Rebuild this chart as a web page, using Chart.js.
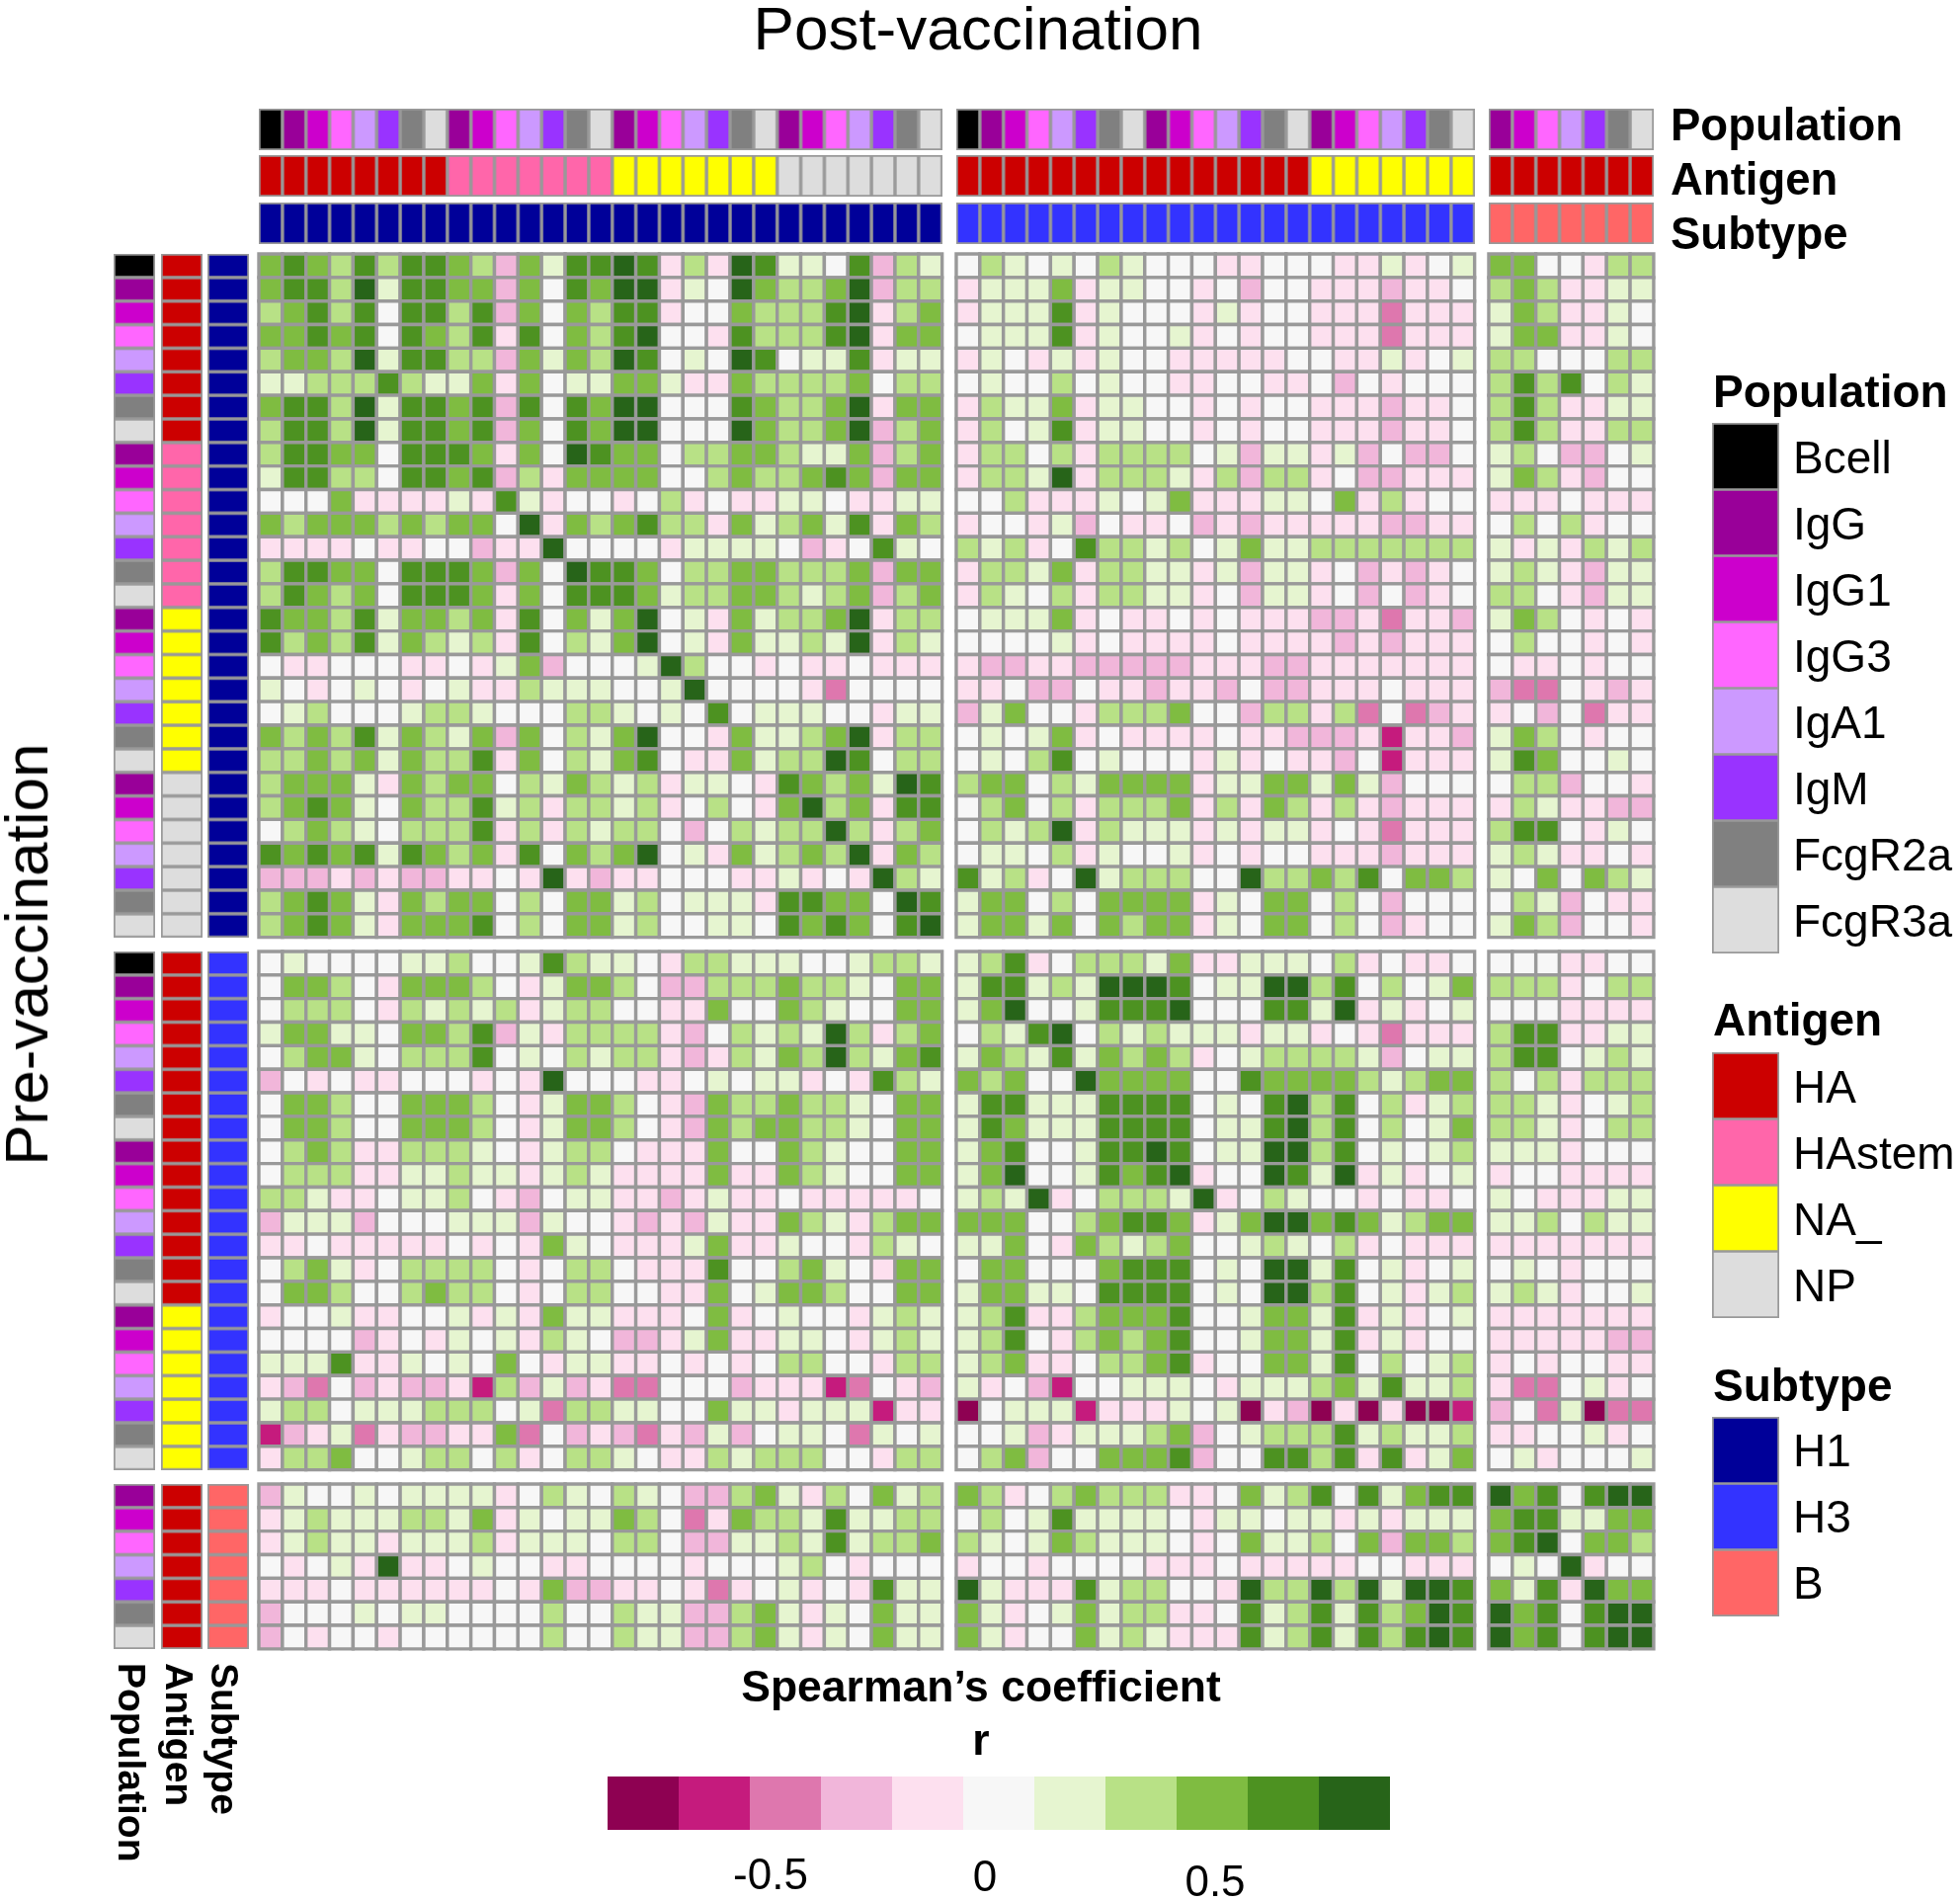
<!DOCTYPE html>
<html>
<head>
<meta charset="utf-8">
<title>Post-vaccination vs Pre-vaccination</title>
<script src="https://cdn.jsdelivr.net/npm/chart.js@4/dist/chart.umd.js"></script>
<style>
  html, body { margin: 0; padding: 0; background: #fff; }
  #wrap { position: relative; width: 1984px; height: 1924px; overflow: hidden; font-family: "Liberation Sans", Arial, sans-serif; color: #000; }
  #heat { position: absolute; left: 0; top: 0; }
  .lbl { position: absolute; white-space: nowrap; line-height: 1; }
</style>
</head>
<body>
<div id="wrap"><canvas id="heat" width="1984" height="1924"></canvas></div>
<script>
// Spearman bins: a..k = -5..+5 on the colour scale, f is zero
const binLetters = "abcdefghijk";
const binColors = ["#8e0152", "#c51b7d", "#de77ae", "#f1b6da", "#fde0ef", "#f7f7f7", "#e6f5d0", "#b8e186", "#7fbc41", "#4d9221", "#276419"];
const colorbarTicks = ["-0.5", "0", "0.5"];

const populationNames = ["Bcell", "IgG", "IgG1", "IgG3", "IgA1", "IgM", "FcgR2a", "FcgR3a"];
const populationColors = ["#000000", "#990099", "#cc00cc", "#ff66ff", "#cc99ff", "#9933ff", "#808080", "#dddddd"];
const antigenNames = ["HA", "HAstem", "NA_", "NP"];
const antigenColors = ["#cc0000", "#ff66aa", "#ffff00", "#dddddd"];
const subtypeNames = ["H1", "H3", "B"];
const subtypeColors = ["#000099", "#3333ff", "#ff6666"];

// same order on both axes: subtype -> antigen -> population
const fullPop = populationNames;
const shortPop = populationNames.slice(1);
const h1Population = [...fullPop, ...shortPop, ...shortPop, ...shortPop];
const h1Antigen = [...Array(8).fill("HA"), ...Array(7).fill("HAstem"), ...Array(7).fill("NA_"), ...Array(7).fill("NP")];
const h3Population = [...fullPop, ...shortPop, ...shortPop];
const h3Antigen = [...Array(15).fill("HA"), ...Array(7).fill("NA_")];
const bPopulation = shortPop;
const bAntigen = Array(7).fill("HA");

// rows = pre-vaccination, chunks = post-vaccination H1 (15+14), H3, B
const preH1 = [
  "ijihjhjjihdigjj kjehekjggfjdhg fhgfgfhgfffeefffeegefg iiffehh",
  "ijjhkgjjiidifji kkegfkihhikdhh egggieggffefdffeeedeef hiheegg",
  "hijhjfjjhjdifih jjeffihhhjkehi egggjegfffegeffeeeceee giheegf",
  "iijijfjihjejfih jkffejhhhjkeii fgggjegffgefeffeeeceee giieegf",
  "hiihkgjjhhdigih kjfgfkjfggjegg egfegegffeeeeeffeegefg hhfffhh",
  "gghhhjhggieifgg iigeeihhhhifhh fgffhfgffeeffeefdfefff hjhjfhg",
  "ijjhkgjjijdjfji kkfffjihhikeii ehggieggffefeffeeedeef hjheegg",
  "hjjhkgjjijdifji kkfffkihhikdhi ehfgjeggffefeffeeedeef hjheehh",
  "hjjiifjjjieifkj iifhhiihggidhi ehhfhehhhhfgdggegdfddf ghfddfg",
  "gjjhhfjjijdheii iiffhihhijidii ehhgkehhhgehdhhefddeee gihedff",
  "fffieeeegejgeff efhefeeggfeegg ffheeegfgieeeggfieheff eeefeee",
  "ihiiihihiifkeih ijhheighigjeih effegdfeefdedeeeeeddee fhfheff",
  "eeeefeeffdeekff ffeggggfdefjgf hghefjhhghfgigghhhhhhh gegehgh",
  "hjjiifjjjidifkj jifhhiihhhidii ehhgiehhggegdggefdedef ghgedgg",
  "hjihifjjjieifjj jighhiihghidhi ehgfhehhggefdggefdfdef hhfedgg",
  "jiihjgiihiejfig ikfgeighhikehh fgggiefeefefeeeddeceed gihfefe",
  "jhihjgihghejfhg ikfgeigghgkehg ffffgefeeeefeeeededeee fhffefe",
  "feefffeefegidff fgkhffefeefeee eddeedddddeeeddeeeeeee feefeff",
  "gfefgfefgeehggg ffgkffffecffff eefddfeedeedfddeeefeee dccfede",
  "fghfffghhgfffhh gfgfjfgggffegg dgiffehhhiffdhhehcfcde efdfcee",
  "ihihjgihgidifhg ikffeigghikehh fgfgiefeeeefeedddebeed gihfeff",
  "hhihigihhjeifhg ijfeeighhkjfhh fgfhjfgfffegefeedfbeee gjiffgf",
  "hiiigeihiifhgih gheggfejihigkj hiifhgiiiieggiigigdfff fhhdffe",
  "hijigfihhjghehh ghefhfeikhiejj fhifhehhhieheihehedeee ehgeedd",
  "fhihgfhhhjehehg hhfdfhghhkhehi fhghkehgggegeggefeceee hjjfegf",
  "jijijgjihiejfih ikfgeighihkeih fggfhegffgefeffeeedeee ghgeefe",
  "dddededdeefeked eefffeegefekhg jghefkghhhffkhhihjfiih gfifihg",
  "hijigeihiifhfii ghfgggejjiifkj giifhfiiiiegfiifhfdfff fhgdfee",
  "hijigeiiijfhfii ghffggfjijifjk giigifihiiegfiifhfdeff gihdffe"
];
const preH3 = [
  "fgffffgghffgjhggfehhgggffghhg ghjefhhhgieegggfhefeef fffeeff",
  "fiihfeiiihfegiihfddhhhihhgfii gjjghgkkkjfggkkhjfhfgi hhhefhh",
  "fhhhfehghgheghhffeeiffihgffii gikffgjjjkfffjjgkegefg fffeeee",
  "giiggfiihjdgehhhhedfhghgkhehi fhgjkfhghgggeggefeceee hjjeegg",
  "fhiigfhhhjfgfhghhedehgihkhgij gihgjgihihefghhhhgdfgg hjjfghg",
  "dfefeefffefekfffeefgfggefejhg ihiffkiiiiffjiiiihghii hfhehhh",
  "fiihffiiihfegiihfedihhihhgfii gjjgggjjjjfgfjkhjfhegh hhgefgh",
  "fiihffiiihfegiihfedihiihhgfii gjigggjjjjfggjkhjfhfgi hhgefhh",
  "fhiheehhhgfeghhfeeeiffihgffii gijffgjjkjfggkkhjfgfgh gggefff",
  "fhhheegghggeghgeeeeieeihgffii gikffgjijkeffkjgkegefg effeeee",
  "hhgeefgghfedfggeedegeefeeeeef ghgkefhhhgkefhgffefeef gfeeegg",
  "dgggdfffgggdgffededgeeihgehii iiiffhijjiegikkijighii gghfhgg",
  "eefeeeeefefeigfeeegieegffehgf ggifeihghiffghgfhefeee eeeeeee",
  "fhigefhhhhfefhhfeeejffhigfeii fiifffijjjfgfkkgjfgefg fgfefff",
  "fiihffhihhfefhhffeeifgiihffii giiggfjjjjfgfkkhjfgegh ghgeffg",
  "effgeeffgegeiggeeefiefgffeghg ghjeehiiijffgiigjegefg eeeeeee",
  "ffffdefegfgehgfddegieeggfeghg ghjfehihijffgiigjegeff eeeeedd",
  "gggjeegfgfifeggeefefefhhffehh ghieefhhijeffiigjfhfgh efeffee",
  "edcfdeddebhdgdeccfffdeeebcfed gefdbffgggfeggghigjggh eccfgef",
  "ghhfggghhhfgchhggffiggegggbee afgggbeeegfgaedaeaeaab dfcgacc",
  "bdegceddeeicfdedcedgdfggfcgfg ffgdeggghidfghhhjghggh eeffgef",
  "ehhiffghhfhefhhgfeehghhhffehh fhidffiiijdffjjhjejegi fgefffg"
];
const preB = [
  "dgffgfggggefhgfhgfddhigehfigh ihefhihhheefighjfjgijj kijfjkk",
  "eghggghhgiegfggihfceihhgjgghh fhfgjggggfeggfggegeggg ijjggii",
  "eghggeggghegggfhhfddgghgjghhi hgfgihgggfefigghfidiih ijkfiih",
  "fefgekeefgffeeffffefffghfefff effeffffeeefeeeeeffeee fgfkeff",
  "eeefeeeeeefeiddeefecefgefejgg kgeeejghhffekhhkhkgkkj igjekii",
  "dfffgfggffffhffhggddhigegfigg igefgighheefjghjgjhikj kijfjkk",
  "dfeffeffffffhffhggddhigegfigg igeffighgeeejghjgjhjkj kijfjkk"
];

// layout, in page pixels
const PITCH = 23.85;
const ORIGIN_X = 262;
const ORIGIN_Y = 257;
const GROUP_GAP = 0.6;
const GRID = "#999999";
const unitX = px => (px - ORIGIN_X) / PITCH;
const unitY = px => (px - ORIGIN_Y) / PITCH;

const spriteCache = {};
function sprite(fill, w, h, edge) {
  const key = [fill, w, h, edge].join("|");
  if (spriteCache[key]) return spriteCache[key];
  const c = document.createElement("canvas");
  c.width = w; c.height = h;
  const g = c.getContext("2d");
  if (edge > 0) {
    g.fillStyle = GRID;
    g.fillRect(0, 0, w, h);
  }
  g.fillStyle = fill;
  g.fillRect(edge, edge, w - 2 * edge, h - 2 * edge);
  spriteCache[key] = c;
  return c;
}

// one axis position per column / row, with a gap between subtypes
const axisItems = [];
[[h1Population, h1Antigen, "H1"], [h3Population, h3Antigen, "H3"], [bPopulation, bAntigen, "B"]].forEach((g, gi) => {
  g[0].forEach((pop, i) => axisItems.push({
    pos: axisItems.length + gi * GROUP_GAP + 0.5,
    pop: populationColors[populationNames.indexOf(pop)],
    ant: antigenColors[antigenNames.indexOf(g[1][i])],
    sub: subtypeColors[subtypeNames.indexOf(g[2])]
  }));
});

const heatPoints = [];
[...preH1, ...preH3, ...preB].forEach((row, r) => {
  row.replace(/ /g, "").split("").forEach((ch, c) => {
    heatPoints.push({ x: axisItems[c].pos, y: axisItems[r].pos, v: binLetters.indexOf(ch) });
  });
});

const spritePoints = [];
// annotation strips along the top and left
[["pop", 131], ["ant", 178], ["sub", 226]].forEach(([k, py]) => {
  axisItems.forEach(a => spritePoints.push({ x: a.pos, y: unitY(py), s: sprite(a[k], 24, 42, 1.75) }));
});
[["pop", 136], ["ant", 184], ["sub", 231]].forEach(([k, px]) => {
  axisItems.forEach(a => spritePoints.push({ x: unitX(px), y: a.pos, s: sprite(a[k], 42, 24, 1.75) }));
});
// legend swatches
[[populationColors, 462], [antigenColors, 1099], [subtypeColors, 1468]].forEach(([colors, py]) => {
  colors.forEach((col, i) => spritePoints.push({ x: unitX(1767), y: unitY(py + i * 67), s: sprite(col, 68, 68, 1.75) }));
});
// colour bar
binColors.forEach((col, i) => spritePoints.push({ x: unitX(615 + 72 * (i + 0.5)), y: unitY(1825), s: sprite(col, 72, 54, 0) }));

new Chart(document.getElementById("heat"), {
  type: "scatter",
  data: {
    datasets: [
      {
        label: "r",
        data: heatPoints,
        clip: false,
        pointStyle: "rect",
        pointRadius: PITCH / Math.SQRT2,
        pointBorderWidth: 3.4,
        pointBorderColor: GRID,
        pointBackgroundColor: ctx => ctx.raw ? binColors[ctx.raw.v] : GRID
      },
      {
        label: "annotations",
        data: spritePoints,
        clip: false,
        pointRadius: 1,
        pointStyle: ctx => ctx.raw ? ctx.raw.s : "rect"
      }
    ]
  },
  options: {
    responsive: false,
    animation: false,
    events: [],
    layout: { padding: 0, autoPadding: false },
    plugins: { legend: { display: false }, tooltip: { enabled: false } },
    scales: {
      x: { type: "linear", display: false, min: unitX(0), max: unitX(1984) },
      y: { type: "linear", display: false, reverse: true, min: unitY(0), max: unitY(1924) }
    }
  }
});

// text labels
const wrap = document.getElementById("wrap");
function label(text, x, y, size, opts) {
  opts = opts || {};
  const el = document.createElement("div");
  el.className = "lbl";
  el.textContent = text;
  el.style.left = x + "px";
  el.style.top = y + "px";
  el.style.fontSize = size + "px";
  if (opts.bold) el.style.fontWeight = "bold";
  if (opts.center) el.style.transform = "translate(-50%,-50%)";
  else if (opts.down) { el.style.transformOrigin = "0 50%"; el.style.transform = "translateY(-50%) rotate(90deg)"; }
  else if (opts.up) el.style.transform = "translate(-50%,-50%) rotate(-90deg)";
  else el.style.transform = "translateY(-50%)";
  wrap.appendChild(el);
}
label("Post-vaccination", 990, 29, 62, { center: true });
label("Pre-vaccination", 27, 966, 62, { up: true });
["Population", "Antigen", "Subtype"].forEach((t, i) => {
  label(t, 1691, [127, 182, 237][i], 45.5, { bold: true });
  label(t, [133, 181, 227][i], 1683, 39, { bold: true, down: true });
});
label("Population", 1734, 396, 46, { bold: true });
label("Antigen", 1734, 1032, 46, { bold: true });
label("Subtype", 1734, 1402, 46, { bold: true });
populationNames.forEach((t, i) => label(t, 1815, 463 + i * 67, 46));
antigenNames.forEach((t, i) => label(t, 1815, 1100 + i * 67, 46));
subtypeNames.forEach((t, i) => label(t, 1815, 1468 + i * 67, 46));
label("Spearman\u2019s coefficient", 993, 1707, 44.5, { bold: true, center: true });
label("r", 993, 1761, 44.5, { bold: true, center: true });
colorbarTicks.forEach((t, i) => label(t, [780, 997, 1230][i], [1897, 1899, 1904][i], 44, { center: true }));
</script>
</body>
</html>
